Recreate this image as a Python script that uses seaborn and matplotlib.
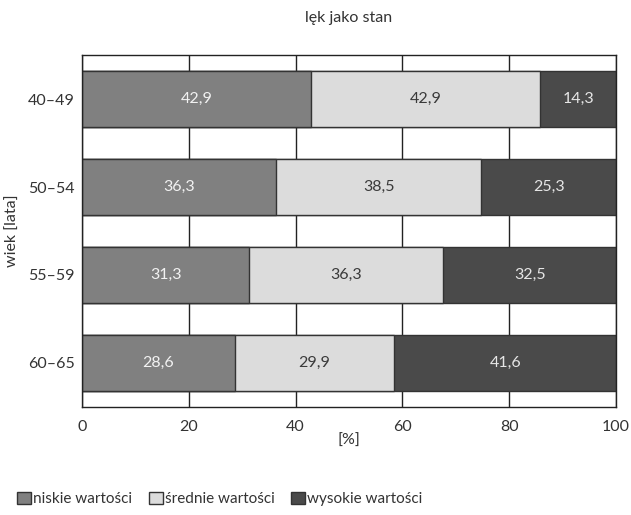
import numpy as np
import pandas as pd
import matplotlib
matplotlib.use("Agg")
import matplotlib.pyplot as plt
import seaborn as sns
from matplotlib.patches import Patch

# data
age_groups = ["40–49", "50–54", "55–59", "60–65"]
low_vals = [42.9, 36.3, 31.3, 28.6]
mid_vals = [42.9, 38.5, 36.3, 29.9]
high_vals = [14.3, 25.3, 32.5, 41.6]
series_names = ["niskie wartości", "średnie wartości", "wysokie wartości"]

colors = ["#808080", "#dcdcdc", "#4a4a4a"]
text_colors = ["#f2f2f2", "#3a3a3a", "#e6e6e6"]

sns.set_style("white")
plt.rcParams['font.family'] = ['Lato', 'DejaVu Sans']

df = pd.DataFrame({"wiek": age_groups, "low": low_vals, "mid": mid_vals, "high": high_vals})
df["c1"] = df["low"]
df["c2"] = df["low"] + df["mid"]
df["c3"] = df["c2"] + df["high"]

fig, ax = plt.subplots(figsize=(6.31, 5.15), dpi=100)
fig.subplots_adjust(left=0.13, right=0.976, top=0.893, bottom=0.21)

# gridlines behind bars
ax.set_axisbelow(True)
ax.grid(axis='x', color='#222222', linewidth=1.0)

# stacked bars: draw cumulative from back to front
for col, c in zip(["c3", "c2", "c1"], colors[::-1]):
    sns.barplot(data=df, x=col, y="wiek", color=c, width=0.63,
                edgecolor="#333333", linewidth=1.0, ax=ax, orient='h', saturation=1)

# value labels
for i in range(len(age_groups)):
    starts = [0, df["c1"][i], df["c2"][i]]
    vals = [low_vals[i], mid_vals[i], high_vals[i]]
    for s, v, tc in zip(starts, vals, text_colors):
        ax.text(s + v / 2, i, f"{v:.1f}".replace(".", ","), ha='center', va='center',
                color=tc, fontsize=11.5)

ax.set_xlim(0, 100)
ax.set_ylim(3.5, -0.5)
ax.set_xticks([0, 20, 40, 60, 80, 100])
ax.tick_params(axis='x', direction='out', length=6, width=1, color='#222222', labelsize=11.5, labelcolor='#333333')
ax.tick_params(axis='y', length=0, labelsize=11.5, labelcolor='#333333', pad=5)
for sp in ax.spines.values():
    sp.set_color('#222222')
    sp.set_linewidth(1.0)

ax.set_xlabel("[%]", fontsize=11.5, color='#333333', labelpad=0)
ax.set_ylabel("wiek [lata]", fontsize=11.5, color='#333333', labelpad=6)
ax.set_title("lęk jako stan", fontsize=11.5, color='#333333', pad=24)

handles = [Patch(facecolor=c, edgecolor='#333333', linewidth=1.0) for c in colors]
fig.legend(handles, series_names, loc='lower left', bbox_to_anchor=(0.005, -0.01),
           ncol=3, frameon=False, fontsize=11, handlelength=0.9, handleheight=0.9,
           handletextpad=0.15, columnspacing=1.1, labelcolor='#333333')

plt.savefig("out.png", dpi=100)
